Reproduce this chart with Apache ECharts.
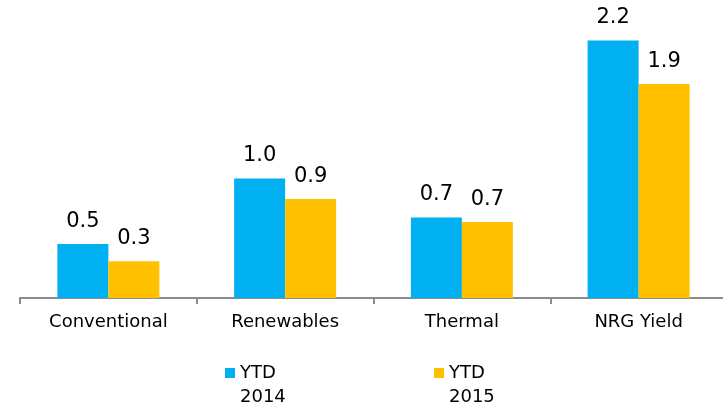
<!DOCTYPE html>
<html>
<head>
<meta charset="utf-8">
<script src="https://cdn.jsdelivr.net/npm/echarts@6/dist/echarts.min.js"></script>
<style>
  html, body { margin: 0; padding: 0; background: #fff; }
  #chart { width: 723px; height: 407px; }
</style>
</head>
<body>
<div id="chart"></div>
<script>
// data
const categories = ['Conventional', 'Renewables', 'Thermal', 'NRG Yield']
const ytd2014 = [0.47, 1.04, 0.70, 2.24]
const ytd2015 = [0.32, 0.86, 0.66, 1.86]
const seriesNames = ['YTD\n2014', 'YTD\n2015']

const myChart = echarts.init(document.getElementById('chart'))

const labelStyle = {
  show: true,
  position: 'top',
  distance: 12,
  fontFamily: 'DejaVu Sans',
  fontSize: 21,
  color: '#000',
  formatter: p => p.value.toFixed(1)
}

// blank first line so the icon sits next to "YTD" and the year wraps below
const legendBase = {
  top: 337,
  padding: 0,
  icon: 'rect',
  itemWidth: 10,
  itemHeight: 10,
  selectedMode: false,
  formatter: name => ' \n' + name,
  textStyle: {
    fontFamily: 'DejaVu Sans',
    fontSize: 18,
    lineHeight: 24,
    color: '#000'
  }
}

let option = {
  animation: false,
  backgroundColor: '#fff',
  // plot runs a little past the right edge, like the original
  grid: { left: 20, top: 10.5, width: 707, height: 287.5, outerBoundsMode: 'none' },
  legend: [
    Object.assign({}, legendBase, { left: 225, data: [seriesNames[0]] }),
    Object.assign({}, legendBase, { left: 434, data: [seriesNames[1]] })
  ],
  xAxis: {
    type: 'category',
    data: categories,
    axisLine: { lineStyle: { color: '#8c8c8c', width: 2 } },
    axisTick: { show: true, length: 6, lineStyle: { color: '#8c8c8c', width: 2 } },
    axisLabel: {
      margin: 15,
      fontFamily: 'DejaVu Sans',
      fontSize: 18,
      color: '#000'
    }
  },
  yAxis: {
    type: 'value',
    min: 0,
    max: 2.5,
    show: false,
    splitLine: { show: false }
  },
  series: [
    {
      name: seriesNames[0],
      type: 'bar',
      data: ytd2014,
      barWidth: 51,
      barGap: '0%',
      itemStyle: { color: '#00B0F0' },
      label: labelStyle
    },
    {
      name: seriesNames[1],
      type: 'bar',
      data: ytd2015,
      barWidth: 51,
      itemStyle: { color: '#FFC000' },
      label: labelStyle
    }
  ]
}

myChart.setOption(option)
</script>
</body>
</html>
